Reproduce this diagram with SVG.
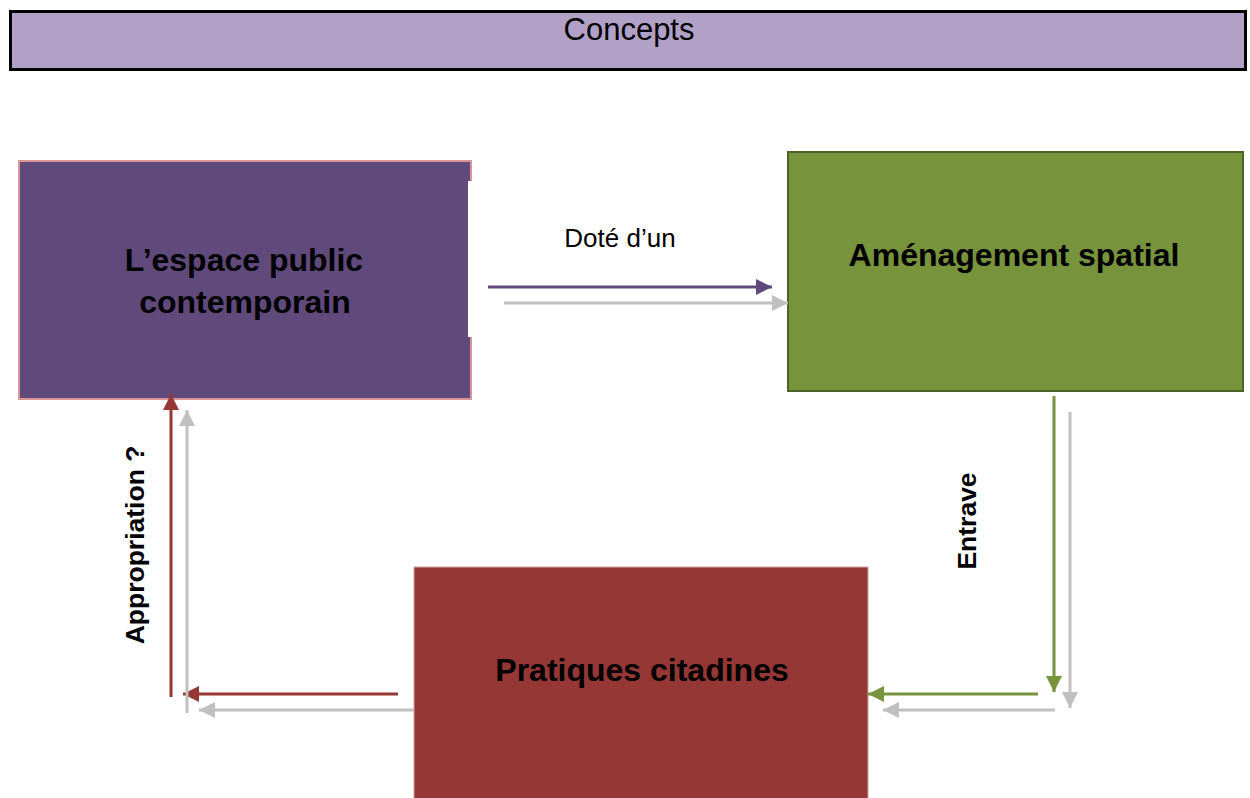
<svg xmlns="http://www.w3.org/2000/svg" width="1250" height="798" viewBox="0 0 1250 798">
  <style>
    .title { font-family: "Liberation Sans", Arial, sans-serif; font-size: 31px; fill: #000; }
    .node { font-family: "Liberation Sans", Arial, sans-serif; font-size: 32px; font-weight: bold; fill: #000; }
    .lbl { font-family: "Liberation Sans", Arial, sans-serif; font-size: 26px; fill: #000; }
    .vlbl { font-family: "Liberation Sans", Arial, sans-serif; font-size: 26.5px; font-weight: bold; fill: #000; }
    .purple { stroke: #604a7b; stroke-width: 3; fill: none; }
    .green { stroke: #77933c; stroke-width: 3; fill: none; }
    .red { stroke: #953735; stroke-width: 3; fill: none; }
    .grey { stroke: #c0c0c0; stroke-width: 3; fill: none; }
  </style>
  <defs>
    <marker id="mPurple" markerUnits="userSpaceOnUse" markerWidth="16" markerHeight="16" refX="16" refY="8" orient="auto">
      <path d="M0,0 L16,8 L0,16 Z" fill="#604a7b"/>
    </marker>
    <marker id="mGreen" markerUnits="userSpaceOnUse" markerWidth="16" markerHeight="16" refX="16" refY="8" orient="auto">
      <path d="M0,0 L16,8 L0,16 Z" fill="#77933c"/>
    </marker>
    <marker id="mRed" markerUnits="userSpaceOnUse" markerWidth="16" markerHeight="16" refX="16" refY="8" orient="auto">
      <path d="M0,0 L16,8 L0,16 Z" fill="#953735"/>
    </marker>
    <marker id="mGrey" markerUnits="userSpaceOnUse" markerWidth="16" markerHeight="16" refX="16" refY="8" orient="auto">
      <path d="M0,0 L16,8 L0,16 Z" fill="#c0c0c0"/>
    </marker>
  </defs>
  <rect width="1250" height="798" fill="#ffffff"/>

  <g id="title">
    <rect x="10.5" y="11.5" width="1235" height="58" fill="#b2a1c7" stroke="#000" stroke-width="3"/>
    <text class="title" x="629" y="40" text-anchor="middle">Concepts</text>
  </g>

  <g id="node-espace">
    <rect x="19" y="161" width="452" height="238" fill="#604a7b" stroke="#d99694" stroke-width="2"/>
    <rect x="468" y="181" width="6" height="156" fill="#ffffff"/>
    <text class="node" x="244" y="271" text-anchor="middle">L’espace public</text>
    <text class="node" x="245" y="313" text-anchor="middle">contemporain</text>
  </g>

  <g id="node-amenagement">
    <rect x="788" y="152" width="455" height="239" fill="#77933c" stroke="#4f6228" stroke-width="2"/>
    <text class="node" x="1014" y="266" text-anchor="middle">Aménagement spatial</text>
  </g>

  <g id="node-pratiques">
    <rect x="414" y="567" width="454" height="240" fill="#953735" stroke="#c9a4a3" stroke-width="1"/>
    <text class="node" x="642" y="681" text-anchor="middle">Pratiques citadines</text>
  </g>

  <g id="connectors">
    <line class="purple" x1="488" y1="287" x2="772" y2="287" marker-end="url(#mPurple)"/>
    <line class="grey" x1="504" y1="303" x2="788" y2="303" marker-end="url(#mGrey)"/>

    <line class="green" x1="1054" y1="396" x2="1054" y2="692" marker-end="url(#mGreen)"/>
    <line class="grey" x1="1070" y1="412" x2="1070" y2="708" marker-end="url(#mGrey)"/>

    <line class="green" x1="1038" y1="694" x2="868" y2="694" marker-end="url(#mGreen)"/>
    <line class="grey" x1="1055" y1="710" x2="883" y2="710" marker-end="url(#mGrey)"/>

    <line class="red" x1="398" y1="694" x2="183" y2="694" marker-end="url(#mRed)"/>
    <line class="grey" x1="414" y1="710" x2="199" y2="710" marker-end="url(#mGrey)"/>

    <line class="red" x1="171" y1="697" x2="171" y2="394" marker-end="url(#mRed)"/>
    <line class="grey" x1="187" y1="713" x2="187" y2="410" marker-end="url(#mGrey)"/>

    <text class="lbl" x="620" y="247" text-anchor="middle">Doté d’un</text>
    <text class="vlbl" transform="translate(144,545) rotate(-90)" text-anchor="middle">Appropriation ?</text>
    <text class="vlbl" transform="translate(976,521) rotate(-90)" text-anchor="middle">Entrave</text>
  </g>
</svg>
